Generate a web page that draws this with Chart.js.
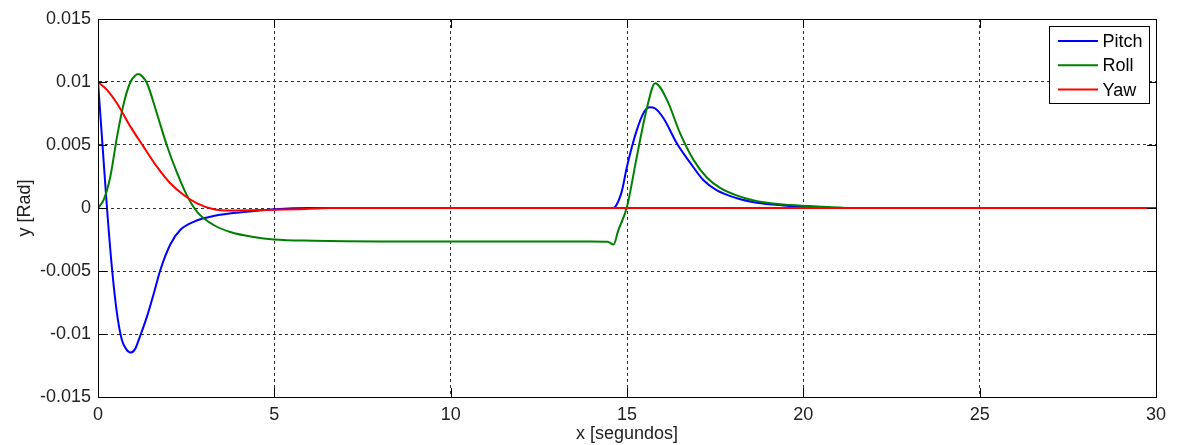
<!DOCTYPE html>
<html>
<head>
<meta charset="utf-8">
<script src="https://cdn.jsdelivr.net/npm/chart.js@4.4.1/dist/chart.umd.min.js"></script>
<style>
  html, body { margin: 0; padding: 0; background: #ffffff; }
  #wrap { width: 1177px; height: 445px; }
</style>
</head>
<body>
<div id="wrap"><canvas id="c" width="1177" height="445"></canvas></div>
<script>
// ---- data ----
const seriesNames = ['Pitch', 'Roll', 'Yaw'];
const seriesColors = ['#0000ff', '#008000', '#ff0000'];

const pitchT = [0, 0.11, 0.26, 0.4, 0.54, 0.68, 0.8, 0.92, 1.05, 1.15, 1.39, 1.6, 1.77, 2.05, 2.33, 2.71, 3.28, 4.22, 5.0, 6.0, 14.6, 14.67, 14.85, 15.0, 15.28, 15.5, 15.64, 15.8, 16.04, 16.42, 16.79, 17.17, 17.55, 18.12, 18.68, 19.44, 20.0, 21, 30];
const pitchY = [0.01, 0.0057, -0.0002, -0.0049, -0.0084, -0.0105, -0.0112, -0.01147, -0.0112, -0.0105, -0.0086, -0.0066, -0.0049, -0.0029, -0.00175, -0.0011, -0.00064, -0.0003, -0.0001, 0, 0, 0.0001, 0.0013, 0.0033, 0.0062, 0.0077, 0.0080, 0.0079, 0.0071, 0.0051, 0.0036, 0.0022, 0.0014, 0.00077, 0.00042, 0.0002, 0.0001, 0, 0];

const rollT = [0, 0.16, 0.35, 0.54, 0.73, 0.92, 1.05, 1.15, 1.27, 1.39, 1.67, 1.96, 2.24, 2.52, 2.81, 3.28, 3.75, 4.41, 4.98, 6.11, 8, 10, 12, 14, 14.45, 14.62, 14.75, 15.0, 15.28, 15.57, 15.8, 16.13, 16.51, 16.89, 17.27, 17.64, 18.21, 18.87, 19.63, 20.57, 21.5, 30];
const rollY = [0, 0.00064, 0.0025, 0.00567, 0.0083, 0.0100, 0.0105, 0.01063, 0.0104, 0.0099, 0.0075, 0.0049, 0.0028, 0.0010, -0.0003, -0.00135, -0.0019, -0.0023, -0.0025, -0.0026, -0.00265, -0.00265, -0.00265, -0.00265, -0.00268, -0.0029, -0.0018, 0.0001, 0.0041, 0.0080, 0.0099, 0.0086, 0.0059, 0.0038, 0.0024, 0.0016, 0.0009, 0.00045, 0.00024, 0.0001, 0, 0];

const yawT = [0, 0.255, 0.54, 0.92, 1.29, 1.67, 2.05, 2.43, 2.81, 3.28, 3.75, 4.7, 5.64, 6.6, 15.8, 30];
const yawY = [0.01, 0.00938, 0.0083, 0.00646, 0.00487, 0.00328, 0.00196, 0.00103, 0.00037, -0.0001, -0.0002, -0.00016, -0.00009, 0, 0, 0];

const xTickValues = [0, 5, 10, 15, 20, 25, 30];
const xTickLabels = ['0', '5', '10', '15', '20', '25', '30'];
const yTickValues = [-0.015, -0.01, -0.005, 0, 0.005, 0.01, 0.015];
const yTickLabels = ['-0.015', '-0.01', '-0.005', '0', '0.005', '0.01', '0.015'];

const xTitle = 'x [segundos]';
const yTitle = 'y [Rad]';

// ---- build chart ----
const FONT = "'Liberation Sans', Arial, Helvetica, sans-serif";
const TXT = '#222222';

function pts(t, y) { return t.map((v, i) => ({ x: v, y: y[i] })); }

const seriesT = [pitchT, rollT, yawT];
const seriesY = [pitchY, rollY, yawY];

const datasets = seriesNames.map((name, i) => ({
  label: name,
  data: pts(seriesT[i], seriesY[i]),
  borderColor: seriesColors[i],
  backgroundColor: seriesColors[i],
  borderWidth: 2,
  pointRadius: 0,
  fill: false,
  cubicInterpolationMode: 'monotone',
  order: 3 - i
}));

function setTicks(values) {
  return function (scale) { scale.ticks = values.map(v => ({ value: v })); };
}

const frameAndTicks = {
  id: 'frameAndTicks',
  afterDatasetsDraw(chart) {
    const ctx = chart.ctx, a = chart.chartArea;
    const xs = chart.scales.x, ys = chart.scales.y;
    const L = 9;
    ctx.save();
    ctx.strokeStyle = '#000000';
    ctx.lineWidth = 1;
    ctx.beginPath();
    xTickValues.forEach(v => {
      const p = Math.round(xs.getPixelForValue(v)) + 0.5;
      ctx.moveTo(p, a.bottom); ctx.lineTo(p, a.bottom - L);
      ctx.moveTo(p, a.top); ctx.lineTo(p, a.top + L);
    });
    yTickValues.forEach(v => {
      const p = Math.round(ys.getPixelForValue(v)) + 0.5;
      ctx.moveTo(a.left, p); ctx.lineTo(a.left + L, p);
      ctx.moveTo(a.right, p); ctx.lineTo(a.right - L, p);
    });
    ctx.stroke();
    ctx.strokeRect(Math.round(a.left) + 0.5, Math.round(a.top) + 0.5, Math.round(a.right - a.left), Math.round(a.bottom - a.top));
    ctx.restore();
  }
};

const boxLegend = {
  id: 'boxLegend',
  afterDraw(chart) {
    const ctx = chart.ctx;
    const bx = 1049.5, by = 26.5, bw = 100, bh = 77;
    ctx.save();
    ctx.fillStyle = '#ffffff';
    ctx.fillRect(bx, by, bw, bh);
    ctx.strokeStyle = '#000000';
    ctx.lineWidth = 1;
    ctx.strokeRect(bx, by, bw, bh);
    ctx.font = '18px ' + FONT;
    ctx.textBaseline = 'middle';
    ctx.textAlign = 'left';
    chart.data.datasets.forEach((ds, i) => {
      const y = 41 + i * 24.3;
      ctx.strokeStyle = ds.borderColor;
      ctx.lineWidth = 2;
      ctx.beginPath();
      ctx.moveTo(1058, y); ctx.lineTo(1098, y);
      ctx.stroke();
      ctx.fillStyle = '#000000';
      ctx.fillText(ds.label, 1102.5, y + 1);
    });
    ctx.restore();
  }
};

new Chart(document.getElementById('c'), {
  type: 'line',
  data: { datasets },
  plugins: [frameAndTicks, boxLegend],
  options: {
    responsive: false,
    maintainAspectRatio: false,
    devicePixelRatio: 1,
    animation: false,
    layout: { padding: { left: 0, right: 21, top: 19, bottom: 0 } },
    plugins: {
      legend: { display: false },
      tooltip: { enabled: false }
    },
    scales: {
      x: {
        type: 'linear',
        min: 0, max: 30,
        afterBuildTicks: setTicks(xTickValues),
        afterFit(scale) { scale.height = 48; },
        ticks: {
          autoSkip: false,
          maxRotation: 0,
          padding: 7,
          color: TXT,
          font: { family: FONT, size: 18 },
          callback: (v) => xTickLabels[xTickValues.indexOf(v)]
        },
        grid: { color: '#333333', lineWidth: 1, drawTicks: false },
        border: { display: true, color: '#000000', dash: [3, 3] },
        title: {
          display: true, text: xTitle, color: TXT,
          font: { family: FONT, size: 18 },
          padding: { top: 0, bottom: 0 }
        }
      },
      y: {
        type: 'linear',
        min: -0.015, max: 0.015,
        afterBuildTicks: setTicks(yTickValues),
        afterFit(scale) { scale.width = 98; },
        ticks: {
          autoSkip: false,
          padding: 7,
          color: TXT,
          font: { family: FONT, size: 18 },
          callback: (v) => {
            const k = yTickValues.findIndex(t => Math.abs(t - v) < 1e-9);
            return k >= 0 ? yTickLabels[k] : '';
          }
        },
        grid: { color: '#333333', lineWidth: 1, drawTicks: false },
        border: { display: true, color: '#000000', dash: [3, 3] },
        title: {
          display: true, text: yTitle, color: TXT,
          font: { family: FONT, size: 18 },
          padding: { top: 14, bottom: 0 }
        }
      }
    }
  }
});
</script>
</body>
</html>
